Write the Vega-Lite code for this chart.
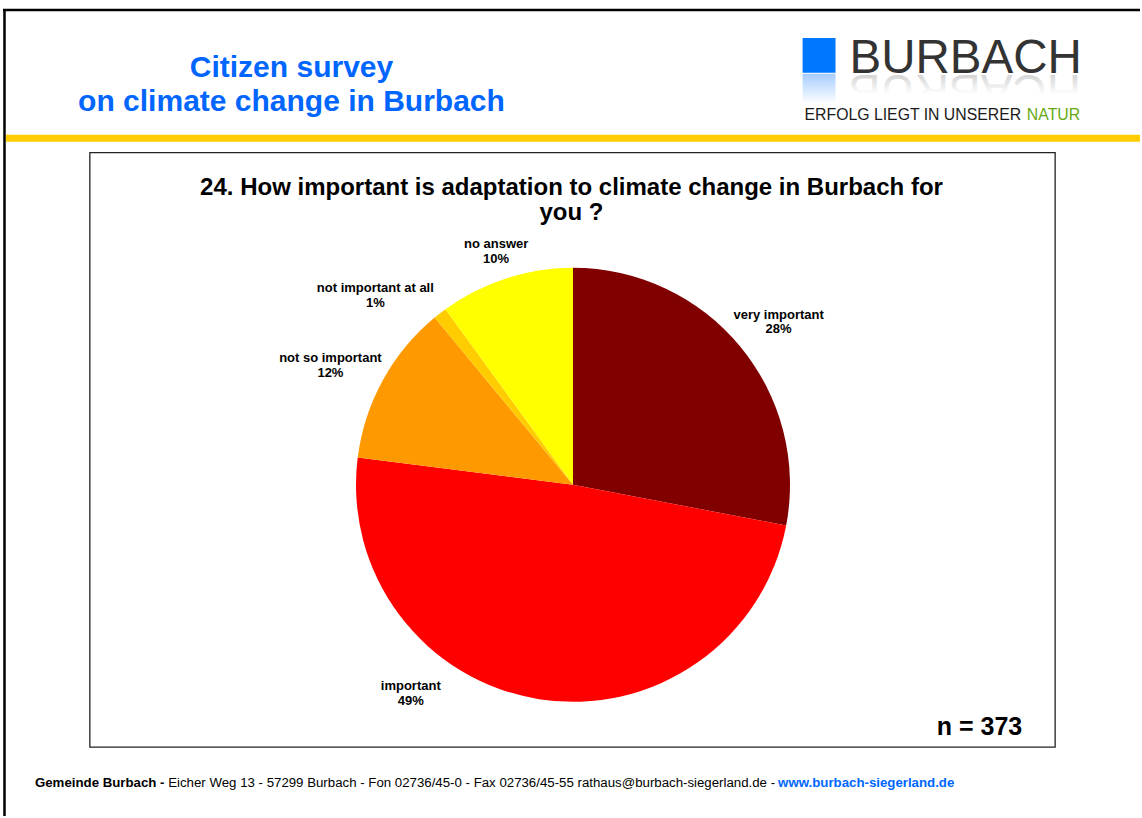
{
  "$schema": "https://vega.github.io/schema/vega-lite/v6.json",
  "width": 1142,
  "height": 818,
  "padding": 0,
  "autosize": {"type": "fit", "contains": "padding"},
  "background": "#ffffff",
  "config": {"view": {"stroke": null}, "axis": {"disable": true}, "font": "Liberation Sans"},
  "datasets": {
    "answers": [
      {"answer": "very important", "percent": 28, "rank": 1},
      {"answer": "important", "percent": 49, "rank": 2},
      {"answer": "not so important", "percent": 12, "rank": 3},
      {"answer": "not important at all", "percent": 1, "rank": 4},
      {"answer": "no answer", "percent": 10, "rank": 5}
    ],
    "one": [{}]
  },
  "data": {"name": "one"},
  "layer": [
    {
      "mark": {"type": "rule", "color": "#000000", "strokeWidth": 2.5},
      "encoding": {
        "x": {"datum": 3, "type": "quantitative", "scale": {"domain": [0, 1142], "nice": false, "zero": false}, "axis": null},
        "x2": {"datum": 1142},
        "y": {"datum": 10, "type": "quantitative", "scale": {"domain": [0, 818], "nice": false, "zero": false, "reverse": true}, "axis": null}
      }
    },
    {
      "mark": {"type": "rule", "color": "#000000", "strokeWidth": 2.5},
      "encoding": {
        "x": {"datum": 4.5, "type": "quantitative"},
        "y": {"datum": 9, "type": "quantitative"},
        "y2": {"datum": 818}
      }
    },
    {
      "mark": {"type": "rect", "color": "#ffcc00"},
      "encoding": {
        "x": {"datum": 6, "type": "quantitative"},
        "x2": {"datum": 1142},
        "y": {"datum": 135, "type": "quantitative"},
        "y2": {"datum": 142}
      }
    },
    {
      "mark": {"type": "text", "text": ["Citizen survey", "on climate change in Burbach"], "font": "Liberation Sans", "fontWeight": "bold", "fontSize": 30, "lineHeight": 34, "color": "#0066ff", "align": "center", "baseline": "alphabetic"},
      "encoding": {"x": {"datum": 292, "type": "quantitative"}, "y": {"datum": 77, "type": "quantitative"}}
    },
    {
      "mark": {"type": "rect", "color": "#0077ff"},
      "encoding": {
        "x": {"datum": 804, "type": "quantitative"},
        "x2": {"datum": 837},
        "y": {"datum": 38, "type": "quantitative"},
        "y2": {"datum": 73}
      }
    },
    {
      "mark": {"type": "rect", "color": {"gradient": "linear", "x1": 0, "y1": 0, "x2": 0, "y2": 1, "stops": [{"offset": 0, "color": "#a6cdff"}, {"offset": 1, "color": "#ffffff"}]}},
      "encoding": {
        "x": {"datum": 804, "type": "quantitative"},
        "x2": {"datum": 837},
        "y": {"datum": 74, "type": "quantitative"},
        "y2": {"datum": 104}
      }
    },
    {
      "mark": {"type": "text", "text": "HCABRUB", "angle": 180, "font": "Liberation Sans", "fontSize": 47.5, "align": "left", "baseline": "alphabetic", "color": {"gradient": "linear", "x1": 0, "y1": 0, "x2": 0, "y2": 1, "stops": [{"offset": 0, "color": "#ffffff"}, {"offset": 0.45, "color": "#ffffff"}, {"offset": 1, "color": "#bdbdbd"}]}},
      "encoding": {"x": {"datum": 1083, "type": "quantitative"}, "y": {"datum": 75, "type": "quantitative"}}
    },
    {
      "mark": {"type": "text", "text": "BURBACH", "font": "Liberation Sans", "fontSize": 47.5, "align": "left", "baseline": "alphabetic", "color": "#333333"},
      "encoding": {"x": {"datum": 851, "type": "quantitative"}, "y": {"datum": 73, "type": "quantitative"}}
    },
    {
      "mark": {"type": "text", "text": "ERFOLG LIEGT IN UNSERER", "font": "Liberation Sans", "fontSize": 15.8, "align": "left", "baseline": "alphabetic", "color": "#1a1a1a"},
      "encoding": {"x": {"datum": 806, "type": "quantitative"}, "y": {"datum": 120, "type": "quantitative"}}
    },
    {
      "mark": {"type": "text", "text": "NATUR", "font": "Liberation Sans", "fontSize": 15.8, "align": "right", "baseline": "alphabetic", "color": "#66aa11"},
      "encoding": {"x": {"datum": 1082, "type": "quantitative"}, "y": {"datum": 120, "type": "quantitative"}}
    },
    {
      "mark": {"type": "rect", "fill": "#ffffff", "stroke": "#222222", "strokeWidth": 1.3},
      "encoding": {
        "x": {"datum": 90, "type": "quantitative"},
        "x2": {"datum": 1057},
        "y": {"datum": 153, "type": "quantitative"},
        "y2": {"datum": 749}
      }
    },
    {
      "mark": {"type": "text", "text": ["24. How important is adaptation to climate change in Burbach for", "you ?"], "font": "Liberation Sans", "fontWeight": "bold", "fontSize": 24, "lineHeight": 25, "align": "center", "baseline": "alphabetic", "color": "#000000"},
      "encoding": {"x": {"datum": 572.5, "type": "quantitative"}, "y": {"datum": 195, "type": "quantitative"}}
    },
    {
      "data": {"name": "answers"},
      "mark": {"type": "arc", "outerRadius": 217},
      "encoding": {
        "x": {"datum": 574, "type": "quantitative"},
        "y": {"datum": 486, "type": "quantitative"},
        "theta": {"field": "percent", "type": "quantitative", "stack": true},
        "order": {"field": "rank", "type": "ordinal"},
        "color": {
          "field": "answer",
          "type": "nominal",
          "scale": {
            "domain": ["very important", "important", "not so important", "not important at all", "no answer"],
            "range": ["#800000", "#ff0000", "#ff9900", "#ffcc00", "#ffff00"]
          },
          "legend": null
        }
      }
    },
    {
      "data": {"name": "answers"},
      "transform": [{"filter": "datum.answer === 'very important'"}],
      "mark": {"type": "text", "text": {"expr": "[datum.answer, datum.percent + '%']"}, "font": "Liberation Sans", "fontWeight": "bold", "fontSize": 13, "lineHeight": 14, "align": "center", "baseline": "alphabetic", "color": "#000000"},
      "encoding": {"x": {"datum": 780, "type": "quantitative"}, "y": {"datum": 320, "type": "quantitative"}}
    },
    {
      "data": {"name": "answers"},
      "transform": [{"filter": "datum.answer === 'important'"}],
      "mark": {"type": "text", "text": {"expr": "[datum.answer, datum.percent + '%']"}, "font": "Liberation Sans", "fontWeight": "bold", "fontSize": 13, "lineHeight": 15, "align": "center", "baseline": "alphabetic", "color": "#000000"},
      "encoding": {"x": {"datum": 411.5, "type": "quantitative"}, "y": {"datum": 692, "type": "quantitative"}}
    },
    {
      "data": {"name": "answers"},
      "transform": [{"filter": "datum.answer === 'not so important'"}],
      "mark": {"type": "text", "text": {"expr": "[datum.answer, datum.percent + '%']"}, "font": "Liberation Sans", "fontWeight": "bold", "fontSize": 13, "lineHeight": 15, "align": "center", "baseline": "alphabetic", "color": "#000000"},
      "encoding": {"x": {"datum": 331, "type": "quantitative"}, "y": {"datum": 363, "type": "quantitative"}}
    },
    {
      "data": {"name": "answers"},
      "transform": [{"filter": "datum.answer === 'not important at all'"}],
      "mark": {"type": "text", "text": {"expr": "[datum.answer, datum.percent + '%']"}, "font": "Liberation Sans", "fontWeight": "bold", "fontSize": 13, "lineHeight": 15, "align": "center", "baseline": "alphabetic", "color": "#000000"},
      "encoding": {"x": {"datum": 376, "type": "quantitative"}, "y": {"datum": 293, "type": "quantitative"}}
    },
    {
      "data": {"name": "answers"},
      "transform": [{"filter": "datum.answer === 'no answer'"}],
      "mark": {"type": "text", "text": {"expr": "[datum.answer, datum.percent + '%']"}, "font": "Liberation Sans", "fontWeight": "bold", "fontSize": 13, "lineHeight": 15, "align": "center", "baseline": "alphabetic", "color": "#000000"},
      "encoding": {"x": {"datum": 497, "type": "quantitative"}, "y": {"datum": 249, "type": "quantitative"}}
    },
    {
      "mark": {"type": "text", "text": "n = 373", "font": "Liberation Sans", "fontWeight": "bold", "fontSize": 25, "align": "right", "baseline": "alphabetic", "color": "#000000"},
      "encoding": {"x": {"datum": 1024, "type": "quantitative"}, "y": {"datum": 737, "type": "quantitative"}}
    },
    {
      "mark": {"type": "text", "text": "Gemeinde Burbach -", "font": "Liberation Sans", "fontWeight": "bold", "fontSize": 13.25, "align": "left", "baseline": "alphabetic", "color": "#000000"},
      "encoding": {"x": {"datum": 35, "type": "quantitative"}, "y": {"datum": 789, "type": "quantitative"}}
    },
    {
      "mark": {"type": "text", "text": "Eicher Weg 13 - 57299 Burbach - Fon 02736/45-0 - Fax 02736/45-55 rathaus@burbach-siegerland.de -", "font": "Liberation Sans", "fontSize": 13.25, "align": "left", "baseline": "alphabetic", "color": "#000000"},
      "encoding": {"x": {"datum": 168.5, "type": "quantitative"}, "y": {"datum": 789, "type": "quantitative"}}
    },
    {
      "mark": {"type": "text", "text": "www.burbach-siegerland.de", "font": "Liberation Sans", "fontWeight": "bold", "fontSize": 13.25, "align": "right", "baseline": "alphabetic", "color": "#0066ff"},
      "encoding": {"x": {"datum": 956, "type": "quantitative"}, "y": {"datum": 789, "type": "quantitative"}}
    }
  ]
}
